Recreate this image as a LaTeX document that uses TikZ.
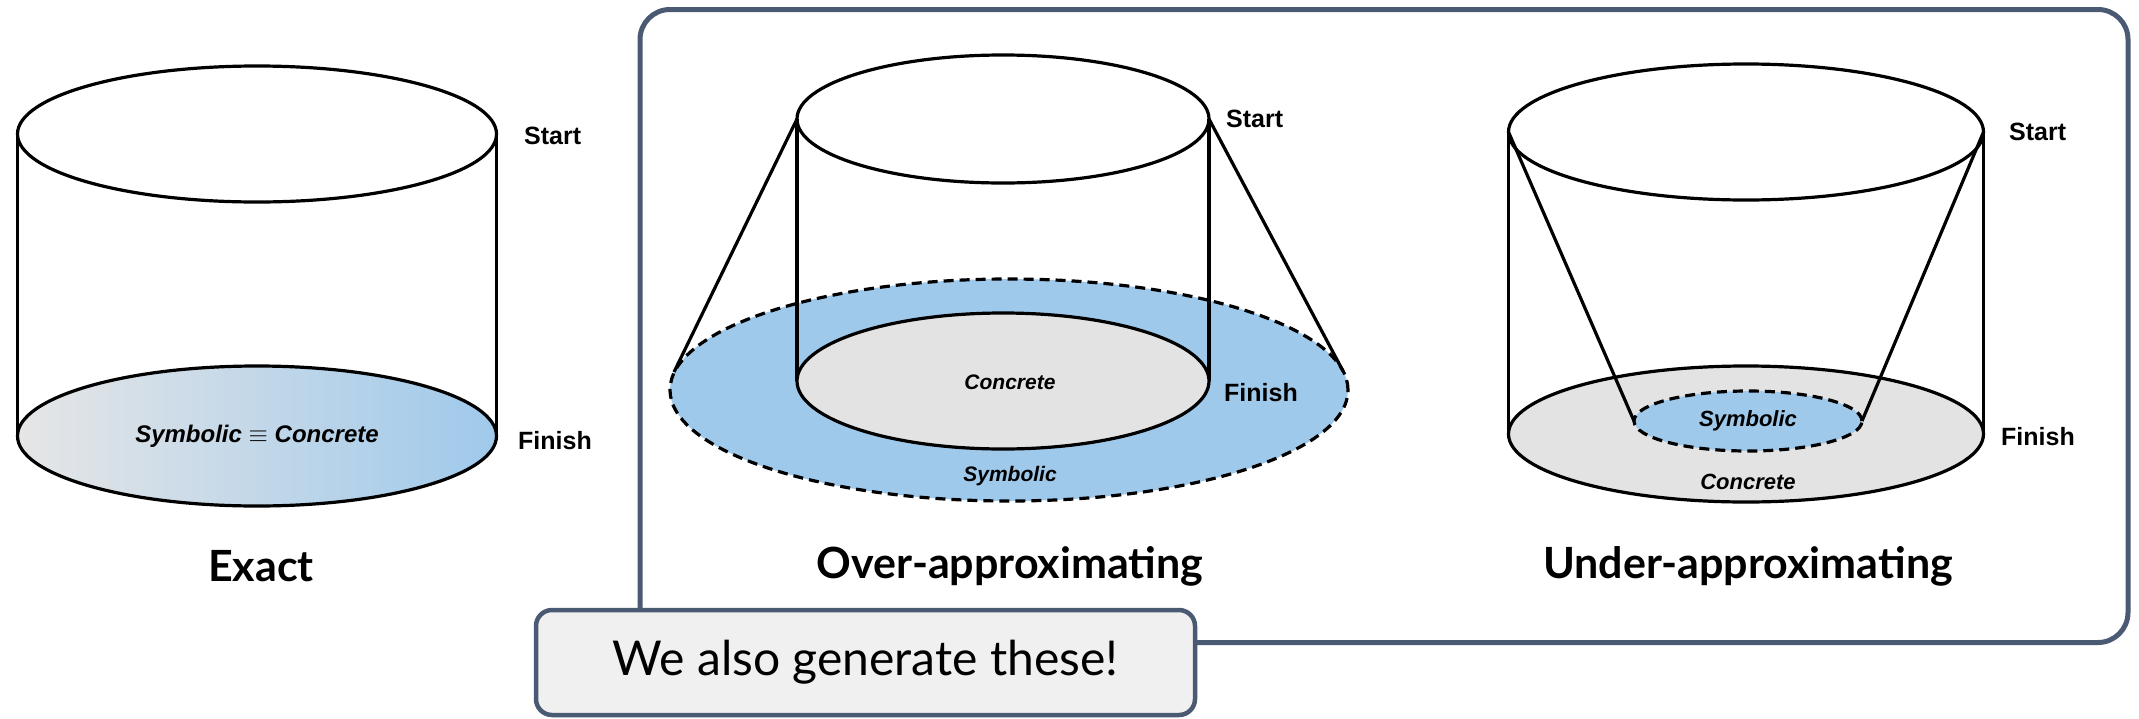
\documentclass[tikz,border=0pt]{standalone}
\usepackage{fontspec}
\setmainfont{Lato}
\newfontfamily\labelfont{Liberation Sans}
\usetikzlibrary{positioning, calc}
\definecolor{framegray}{HTML}{4A5A72}
\definecolor{symblue}{HTML}{9FC9EB}
\definecolor{concgray}{HTML}{E3E3E3}
\definecolor{fadegray}{HTML}{E6E6E6}
\definecolor{notebg}{HTML}{F0F0F0}

\begin{document}
\begin{tikzpicture}[x=1pt, y=-1pt,
        edge/.style={draw=black, line width=3.2pt},
        dashedge/.style={draw=black, line width=3.2pt, dash pattern=on 10pt off 6pt},
        endlabel/.style={font=\labelfont\bfseries\fontsize{25}{29}\selectfont, anchor=west, inner sep=0pt},
        setlabel/.style={font=\labelfont\bfseries\itshape\fontsize{22}{26}\selectfont, inner sep=0pt},
        title/.style={font=\bfseries\fontsize{43}{50}\selectfont, inner sep=0pt},
        frame/.style={draw=framegray, line width=5pt, rounded corners=30pt},
        note/.style={draw=framegray, fill=notebg, line width=4.5pt, rounded corners=16pt, minimum width=659pt, minimum height=105pt, font=\fontsize{48}{56}\selectfont}
    ]
    \useasboundingbox (0,0) rectangle (2139,718);

    % frame round the two approximations
    \draw [frame] (640,9.5) rectangle (2128,642.5);

    % exact
    \coordinate (extop) at (257,134);
    \coordinate (exbot) at (257,436);
    \path [left color=fadegray, right color=symblue] (exbot) ellipse [x radius=239.5pt, y radius=70pt];
    \draw [edge] (exbot) ellipse [x radius=239.5pt, y radius=70pt];
    \draw [edge] ($(extop)+(-239.5,0)$) -- ($(exbot)+(-239.5,0)$);
    \draw [edge] ($(extop)+(239.5,0)$) -- ($(exbot)+(239.5,0)$);
    \draw [edge, fill=white] (extop) ellipse [x radius=239.5pt, y radius=68pt];
    \node (exsets) [setlabel, font=\labelfont\bfseries\itshape\fontsize{24}{28}\selectfont] at (exbot) {Symbolic $\equiv$ Concrete};
    \node (exstart) [endlabel] at (524,136) {Start};
    \node (exfinish) [endlabel] at (518,441) {Finish};
    \node (exact) [title] at (261,566) {Exact};

    % over-approximating
    \coordinate (ovtop) at (1003,119);
    \coordinate (ovbot) at (1003,381);
    \coordinate (ovsym) at (1009,390);
    \fill [symblue] (ovsym) ellipse [x radius=339pt, y radius=111pt];
    \draw [edge] ($(ovtop)+(-206,0)$) -- (674,372);
    \draw [edge] ($(ovtop)+(206,0)$) -- (1343,371);
    \draw [dashedge] (ovsym) ellipse [x radius=339pt, y radius=111pt];
    \draw [edge] ($(ovtop)+(-206,0)$) -- ($(ovbot)+(-206,0)$);
    \draw [edge] ($(ovtop)+(206,0)$) -- ($(ovbot)+(206,0)$);
    \draw [edge] (ovtop) ellipse [x radius=206pt, y radius=64pt];
    \draw [edge, fill=concgray] (ovbot) ellipse [x radius=206pt, y radius=68pt];
    \node (ovconc) [setlabel, font=\labelfont\bfseries\itshape\fontsize{21}{25}\selectfont] at (1010,382) {Concrete};
    \node (ovsymb) [setlabel, font=\labelfont\bfseries\itshape\fontsize{21}{25}\selectfont] at (1010,476) {Symbolic};
    \node (ovstart) [endlabel] at (1226,119) {Start};
    \node (ovfinish) [endlabel] at (1224,393) {Finish};
    \node (overapprox) [title] at (1010,566) {Over-approximating};

    % under-approximating
    \coordinate (untop) at (1746,132);
    \coordinate (unbot) at (1746,434);
    \coordinate (unsym) at (1748,421);
    \draw [edge, fill=concgray] (unbot) ellipse [x radius=237.5pt, y radius=68pt];
    \fill [symblue] (unsym) ellipse [x radius=114pt, y radius=30pt];
    \draw [dashedge] (unsym) ellipse [x radius=114pt, y radius=30pt];
    \draw [edge] ($(untop)+(-237.5,0)$) -- ($(unbot)+(-237.5,0)$);
    \draw [edge] ($(untop)+(237.5,0)$) -- ($(unbot)+(237.5,0)$);
    \draw [edge] ($(untop)+(-237.5,0)$) -- ($(unsym)+(-114,0)$);
    \draw [edge] ($(untop)+(237.5,0)$) -- ($(unsym)+(114,0)$);
    \draw [edge] (untop) ellipse [x radius=237.5pt, y radius=68pt];
    \node (unsymb) [setlabel] at (unsym) {Symbolic};
    \node (unconc) [setlabel] at (1748,482) {Concrete};
    \node (unstart) [endlabel] at (2009,132) {Start};
    \node (unfinish) [endlabel] at (2001,437) {Finish};
    \node (underapprox) [title] at (1748,566) {Under-approximating};

    \node (alsogen) [note] at (865.5,662.5) {We also generate these!};
\end{tikzpicture}
\end{document}
